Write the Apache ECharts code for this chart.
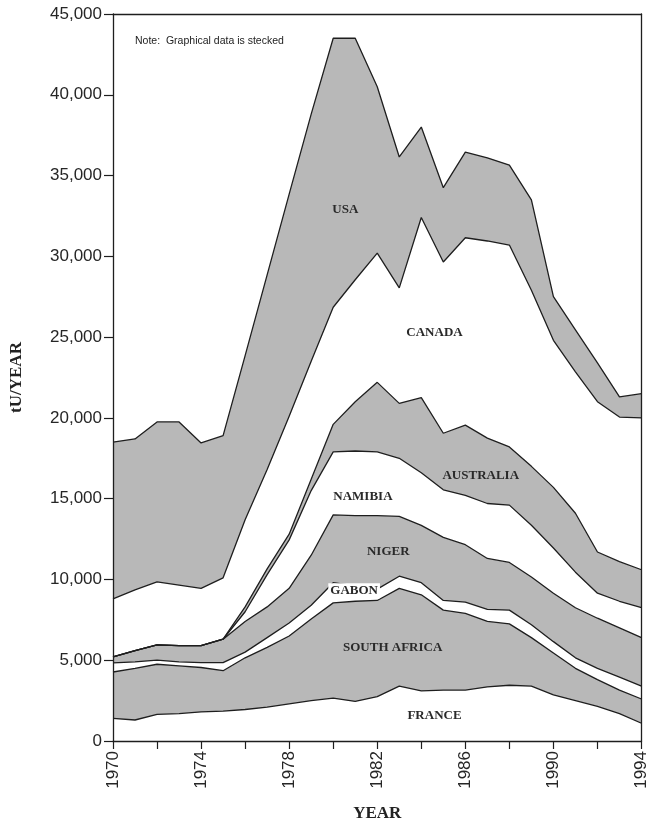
<!DOCTYPE html>
<html>
<head>
<meta charset="utf-8">
<script src="https://cdn.jsdelivr.net/npm/echarts@6/dist/echarts.min.js"></script>
<style>
  html, body { margin: 0; padding: 0; background: #fff; }
  #chart { width: 650px; height: 831px; }
</style>
</head>
<body>
<div id="chart"></div>
<script>
// Uranium production by country, tU per year (stacked, bottom to top)
const years = ['1970', '1971', '1972', '1973', '1974', '1975', '1976', '1977', '1978', '1979', '1980', '1981',
  '1982', '1983', '1984', '1985', '1986', '1987', '1988', '1989', '1990', '1991', '1992', '1993', '1994'];

const france      = [1400, 1300, 1650, 1700, 1800, 1850, 1950, 2100, 2300, 2500, 2650, 2450,
  2750, 3400, 3100, 3150, 3150, 3350, 3450, 3400, 2850, 2500, 2150, 1700, 1100];
const southAfrica = [2870, 3200, 3100, 2950, 2750, 2500, 3200, 3700, 4200, 5050, 5900, 6200,
  5950, 6050, 5950, 4950, 4750, 4050, 3800, 3000, 2600, 2000, 1650, 1450, 1500];
const gabon       = [560, 400, 250, 250, 300, 500, 350, 600, 800, 850, 1250, 950,
  700, 750, 750, 600, 700, 750, 850, 800, 700, 650, 700, 800, 800];
const niger       = [370, 700, 950, 1000, 1050, 1450, 1900, 1900, 2150, 3100, 4200, 4350,
  4550, 3700, 3550, 3900, 3550, 3150, 2950, 2950, 3000, 3100, 3100, 3050, 3000];
const namibia     = [0, 0, 0, 0, 0, 0, 600, 2000, 3000, 4000, 3900, 4000,
  3950, 3600, 3250, 2950, 3050, 3400, 3550, 3200, 2800, 2200, 1550, 1650, 1850];
const australia   = [0, 0, 0, 0, 0, 0, 300, 350, 350, 700, 1700, 3050,
  4300, 3400, 4650, 3500, 4350, 4050, 3600, 3650, 3750, 3650, 2550, 2450, 2350];
const canada      = [3600, 3750, 3900, 3750, 3550, 3800, 5400, 6150, 7300, 7300, 7250, 7550,
  8000, 7150, 11150, 10600, 11600, 12200, 12500, 10900, 9100, 8750, 9300, 8950, 9400];
const usa         = [9700, 9350, 9900, 10100, 9000, 8800, 10150, 12050, 13750, 15300, 16650, 14950,
  10300, 8100, 5600, 4600, 5300, 5150, 4950, 5600, 2700, 2600, 2400, 1250, 1500];

const layerNames  = ['FRANCE', 'SOUTH AFRICA', 'GABON', 'NIGER', 'NAMIBIA', 'AUSTRALIA', 'CANADA', 'USA'];
const layerValues = [france, southAfrica, gabon, niger, namibia, australia, canada, usa];

// Where each country name is written, in axis units [year, tU/year]
const labelYears  = [1984.6, 1982.7, 1980.95, 1982.5, 1981.35, 1986.7, 1984.6, 1980.55];
const labelValues = [1550, 5800, 9300, 11700, 15100, 16450, 25300, 32900];

const yTicks = [0, 5000, 10000, 15000, 20000, 25000, 30000, 35000, 40000, 45000];

const GREY = '#b8b8b8';
const EDGE = '#1e1e1e';

const chart = echarts.init(document.getElementById('chart'), null, { renderer: 'canvas' });

// Filled bands: white and grey alternate from the bottom up
const fillSeries = layerValues.map((vals, i) => ({
  name: layerNames[i] + ' fill',
  type: 'line',
  stack: 'fill',
  data: vals,
  symbol: 'none',
  lineStyle: { width: 0 },
  areaStyle: { color: i % 2 === 0 ? '#ffffff' : GREY, opacity: 1 },
  silent: true,
  z: 2
}));

// Outlines of every band, drawn above all the fills
const edgeSeries = layerValues.map((vals, i) => ({
  name: layerNames[i],
  type: 'line',
  stack: 'edge',
  data: vals,
  symbol: 'none',
  lineStyle: { color: EDGE, width: 1.3 },
  silent: true,
  z: 3
}));

const tickFont = { fontFamily: 'Liberation Sans, Arial, sans-serif', fontSize: 17, color: '#262626' };
const titleFont = { fontFamily: 'Liberation Serif, Times New Roman, serif', fontSize: 17, fontWeight: 'bold', color: '#222' };

chart.setOption({
  animation: false,
  backgroundColor: '#ffffff',
  grid: { left: 113, right: 3, top: 14, bottom: 90, containLabel: false },
  xAxis: [{
    type: 'category',
    data: years,
    boundaryGap: false,
    z: 6,
    name: 'YEAR', nameLocation: 'middle', nameGap: 64,
    nameTextStyle: titleFont,
    axisLine: { show: true, lineStyle: { color: EDGE, width: 1.3 } },
    axisTick: { show: true, interval: 1, length: 8, lineStyle: { color: EDGE, width: 1.2 } },
    axisLabel: Object.assign({ rotate: 90, margin: 10, interval: 3 }, tickFont),
    splitLine: { show: false }
  }, {
    type: 'category', data: years, boundaryGap: false, position: 'top', z: 6,
    axisLine: { show: true, onZero: false, lineStyle: { color: EDGE, width: 1.3 } },
    axisTick: { show: false }, axisLabel: { show: false }, splitLine: { show: false }
  }],
  yAxis: [{
    type: 'value',
    min: yTicks[0], max: yTicks[yTicks.length - 1], interval: yTicks[1] - yTicks[0],
    z: 6,
    name: 'tU/YEAR', nameLocation: 'middle', nameGap: 88,
    nameTextStyle: titleFont,
    axisLine: { show: true, lineStyle: { color: EDGE, width: 1.3 } },
    axisTick: { show: true, length: 9, lineStyle: { color: EDGE, width: 1.2 } },
    axisLabel: Object.assign({
      margin: 11,
      formatter: v => v.toLocaleString('en-US')
    }, tickFont),
    splitLine: { show: false }
  }, {
    type: 'value', position: 'right', min: 0, max: 45000, z: 6,
    axisLine: { show: true, onZero: false, lineStyle: { color: EDGE, width: 1.3 } },
    axisTick: { show: false }, axisLabel: { show: false }, splitLine: { show: false }
  }],
  series: fillSeries.concat(edgeSeries)
});

// Pixel position for a fractional year and a value, via the axis scales
function toPixel(year, value) {
  const i0 = Math.floor(year - Number(years[0]));
  const i1 = Math.min(i0 + 1, years.length - 1);
  const f = (year - Number(years[0])) - i0;
  const a = chart.convertToPixel({ xAxisIndex: 0 }, years[i0]);
  const b = chart.convertToPixel({ xAxisIndex: 0 }, years[i1]);
  const y = chart.convertToPixel({ yAxisIndex: 0 }, value);
  return [a + (b - a) * f, y];
}

// Country names and the note
const graphics = layerNames.map((name, i) => {
  const p = toPixel(labelYears[i], labelValues[i]);
  return {
    type: 'text',
    x: p[0], y: p[1],
    z: 10,
    style: {
      text: name,
      fill: '#2a2a2a',
      font: 'bold 13px "Liberation Serif", "Times New Roman", serif',
      align: 'center',
      verticalAlign: 'middle',
      backgroundColor: name === 'GABON' ? '#ffffff' : null,
      padding: name === 'GABON' ? [1, 2] : 0
    }
  };
});
const notePos = toPixel(1971, 43300);
graphics.push({
  type: 'text',
  x: notePos[0], y: notePos[1],
  z: 10,
  style: {
    text: 'Note:  Graphical data is stecked',
    fill: '#222',
    font: '10.5px "Liberation Sans", Arial, sans-serif',
    align: 'left',
    verticalAlign: 'middle'
  }
});
chart.setOption({ graphic: graphics });
</script>
</body>
</html>
